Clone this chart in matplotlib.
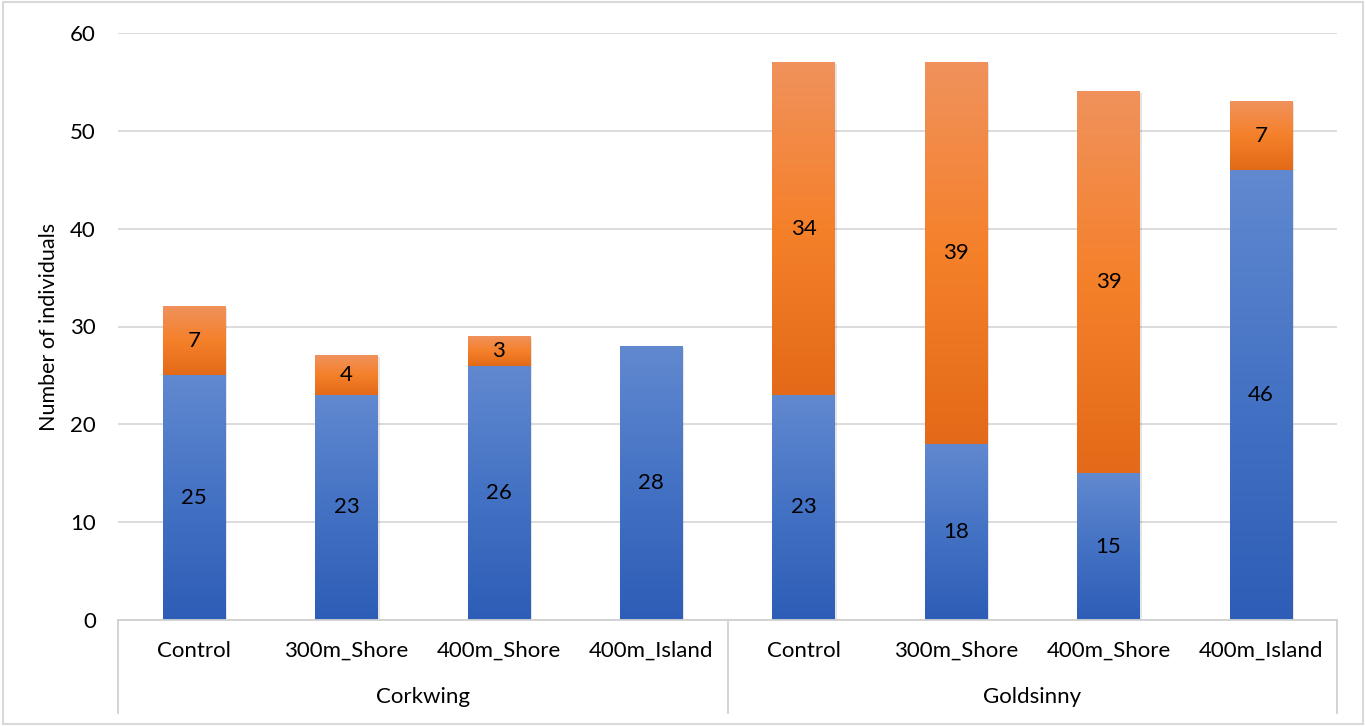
import matplotlib
matplotlib.use('Agg')
import matplotlib.pyplot as plt
import matplotlib.transforms as mtransforms
from matplotlib.colors import LinearSegmentedColormap
from matplotlib.patches import Rectangle
import numpy as np

# data
species = ['Corkwing', 'Goldsinny']
sites = ['Control', '300m_Shore', '400m_Shore', '400m_Island']
blue_vals = [25, 23, 26, 28, 23, 18, 15, 46]
orange_vals = [7, 4, 3, 0, 34, 39, 39, 7]
y_ticks = [0, 10, 20, 30, 40, 50, 60]

plt.rcParams['font.family'] = ['Lato', 'DejaVu Sans']

fig = plt.figure(figsize=(13.66, 7.26), dpi=100)
ax = fig.add_axes([118 / 1366, 1 - 620 / 726, (1337 - 118) / 1366, (620 - 33) / 726])

x = np.arange(len(blue_vals))
bar_w = 0.41
b1 = ax.bar(x, blue_vals, bar_w, color='none', zorder=3)
b2 = ax.bar(x, orange_vals, bar_w, bottom=blue_vals, color='none', zorder=3)

blue_cmap = LinearSegmentedColormap.from_list('b', ['#2D5DB6', '#4472C4', '#6189D0'])
orange_cmap = LinearSegmentedColormap.from_list('o', ['#E36A18', '#F5802A', '#F0925C'])
grad = np.linspace(0, 1, 256).reshape(-1, 1)


def paint(bars, cmap):
    for r in bars:
        h = r.get_height()
        if h <= 0:
            continue
        x0, y0, w = r.get_x(), r.get_y(), r.get_width()
        # soft shadow
        ax.add_patch(Rectangle((x0 + 0.012, y0 - 0.15), w, h, facecolor='#000000',
                               alpha=0.10, linewidth=0, zorder=2))
        ax.imshow(grad, cmap=cmap, origin='lower', aspect='auto',
                  extent=(x0, x0 + w, y0, y0 + h), zorder=3, interpolation='bilinear')


paint(b1, blue_cmap)
paint(b2, orange_cmap)

# data labels
for r, v in zip(b1, blue_vals):
    if v > 0:
        ax.text(r.get_x() + r.get_width() / 2, r.get_y() + v / 2, str(v),
                ha='center', va='center', fontsize=16, color='black', zorder=5)
for r, v in zip(b2, orange_vals):
    if v > 0:
        ax.text(r.get_x() + r.get_width() / 2, r.get_y() + v / 2, str(v),
                ha='center', va='center', fontsize=16, color='black', zorder=5)

ax.set_xlim(-0.5, len(blue_vals) - 0.5)
ax.set_ylim(0, 60)
ax.set_yticks(y_ticks)
ax.tick_params(axis='y', length=0, pad=16, labelsize=16)
ax.grid(axis='y', color='#D9D9D9', linewidth=1.3, zorder=0)
ax.set_axisbelow(True)
for s in ['top', 'right', 'left']:
    ax.spines[s].set_visible(False)
ax.spines['bottom'].set_color('#D0D0D0')
ax.spines['bottom'].set_linewidth(1.3)
ax.spines['bottom'].set_zorder(4)

# multi-level category axis
ax.set_xticks(x)
ax.set_xticklabels(sites * len(species))
ax.tick_params(axis='x', length=0, pad=15, labelsize=16)

trans = mtransforms.blended_transform_factory(ax.transData, fig.transFigure)
n = len(sites)
for i, sp in enumerate(species):
    ax.text(i * n + (n - 1) / 2, 1 - 697 / 726, sp, transform=trans,
            ha='center', va='center', fontsize=16)
for xs in [-0.5 + i * n for i in range(len(species) + 1)]:
    ax.plot([xs, xs], [1 - 620 / 726, 1 - 713 / 726], transform=trans,
            color='#D0D0D0', linewidth=1.3, clip_on=False)

ax.set_ylabel('Number of individuals', fontsize=15.5, labelpad=8)

# outer chart border
fig.patches.append(Rectangle((0.002, 0.003), 0.996, 0.994, transform=fig.transFigure,
                             fill=False, edgecolor='#D9D9D9', linewidth=1.5))

fig.savefig('out.png', dpi=100)
